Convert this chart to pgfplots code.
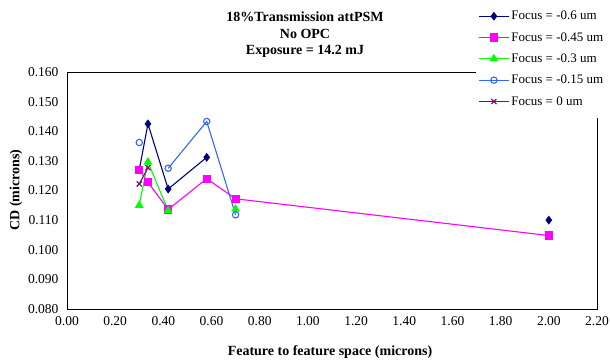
\documentclass[border=0pt]{standalone}
\usepackage{pgfplots}
\pgfplotsset{compat=1.18}
\usepackage{fontspec}
\setmainfont{Liberation Serif}
\definecolor{cNavy}{RGB}{0,0,128}
\definecolor{cMag}{RGB}{255,0,255}
\definecolor{cGreen}{RGB}{0,255,0}
\definecolor{cBlue}{RGB}{51,102,255}
\definecolor{cPurp}{RGB}{128,0,128}
\begin{document}
\begin{tikzpicture}
\path[use as bounding box] (-67bp,-54bp) rectangle (543bp,309bp);
\begin{axis}[
  at={(0,0)}, anchor=origin,
  scale only axis, width=530bp, height=237bp,
  xmin=0, xmax=2.2, ymin=0.08, ymax=0.16,
  xtick={0,0.2,...,2.2}, ytick={0.08,0.09,...,0.16},
  xticklabel style={yshift=-4bp, /pgf/number format/fixed, /pgf/number format/fixed zerofill, /pgf/number format/precision=2},
  yticklabel style={xshift=-5bp, /pgf/number format/fixed, /pgf/number format/fixed zerofill, /pgf/number format/precision=3},
  /pgf/number format/assume math mode=true,
  tick style={draw=none},
  ticklabel style={font=\fontsize{13.5bp}{15bp}\selectfont},
  axis line style={black, line width=1pt},
  unbounded coords=jump,
  legend style={at={(0.772,1.304)}, anchor=north west, draw=none, fill=white,
    font=\fontsize{13bp}{15bp}\selectfont, row sep=7.2bp, inner xsep=2bp, inner ysep=9bp,
    /tikz/every even column/.append style={column sep=2bp}},
  legend cell align=left,
  legend image code/.code={\draw[#1] (0bp,0bp) -- (15bp,0bp) plot coordinates {(15bp,0bp)}; \draw[#1] (15bp,0bp) -- (30bp,0bp);},
  clip=false,
]
\addplot[cNavy, line width=1.1pt, mark=diamond*, mark size=3.6pt, mark options={fill=cNavy}] coordinates {
 (0.30,0.127) (0.336,0.1425) (0.42,0.1205) (0.58,0.1312) (0.70,nan) (2.0,0.110)};
\addlegendentry{Focus = -0.6 um}
\addplot[cMag, line width=1.1pt, mark=square*, mark size=3.6pt, mark options={fill=cMag}] coordinates {
 (0.30,0.127) (0.336,0.1228) (0.42,0.1136) (0.58,0.124) (0.70,0.1172) (2.0,0.1048)};
\addlegendentry{Focus = -0.45 um}
\addplot[cGreen, line width=1.1pt, mark=triangle*, mark size=4pt, mark options={fill=cGreen}] coordinates {
 (0.30,0.115) (0.336,0.1296) (0.42,0.1132) (0.58,nan) (0.70,0.1137)};
\addlegendentry{Focus = -0.3 um}
\addplot[cBlue, line width=1.1pt, mark=o, mark size=3.2pt, mark options={fill=white}] coordinates {
 (0.30,0.1362) (0.336,nan) (0.42,0.1275) (0.58,0.1433) (0.70,0.1118)};
\addlegendentry{Focus = -0.15 um}
\addplot[cPurp, line width=1.1pt, mark=x, mark size=3.6pt] coordinates {
 (0.30,0.1222) (0.336,0.1277)};
\addlegendentry{Focus = 0 um}
\end{axis}
\node[font=\bfseries\fontsize{14bp}{16bp}\selectfont] at (238bp,292bp) {18\%Transmission attPSM};
\node[font=\bfseries\fontsize{14bp}{16bp}\selectfont] at (238bp,275bp) {No OPC};
\node[font=\bfseries\fontsize{14bp}{16bp}\selectfont] at (238bp,258bp) {Exposure = 14.2 mJ};
\node[font=\bfseries\fontsize{14bp}{16bp}\selectfont] at (263bp,-43bp) {Feature to feature space (microns)};
\node[font=\bfseries\fontsize{14bp}{16bp}\selectfont, rotate=90] at (-51bp,119bp) {CD (microns)};
\end{tikzpicture}
\end{document}
